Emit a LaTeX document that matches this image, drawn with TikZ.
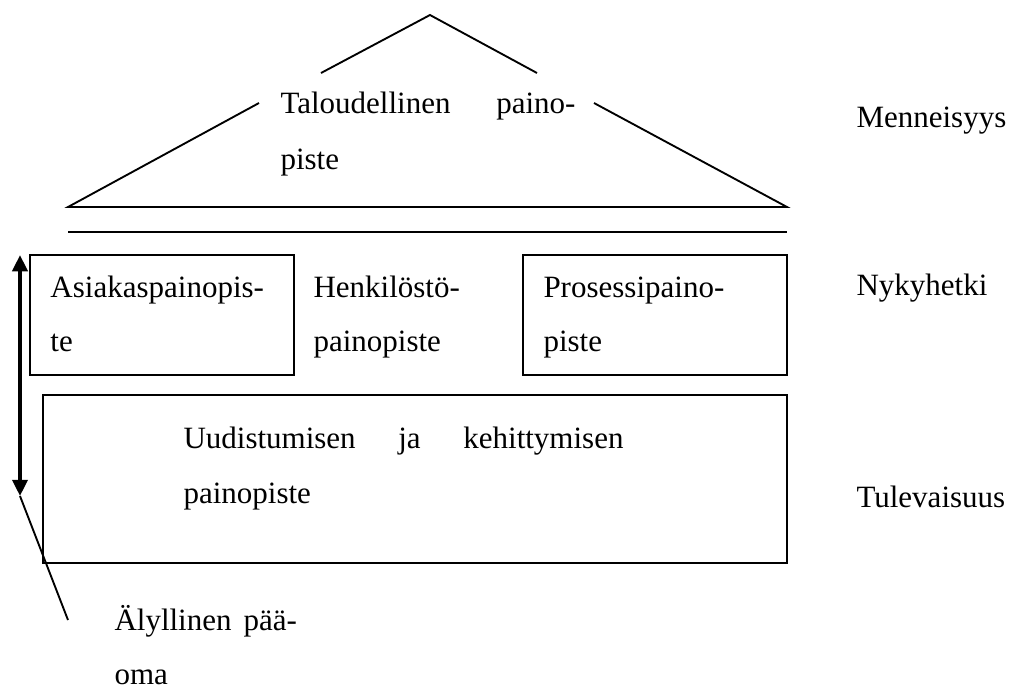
\documentclass[tikz,border=0pt]{standalone}
\usepackage{fontspec}
\setmainfont{Liberation Serif}
\usetikzlibrary{arrows.meta}
\begin{document}
\begin{tikzpicture}[x=0.4pt,y=-0.4pt,
  rule/.style={line width=0.75pt, line join=miter},
  lbl/.style={anchor=base west, inner sep=0pt, font=\fontsize{12.4}{15}\selectfont},
  axisarrow/.style={line width=1.5pt, >={Triangle[width=6pt,length=6.5pt]}, <->}]
\useasboundingbox (0,0) rectangle (1014,689);

% roof outline, broken where the title text sits
\coordinate (apex) at (430,15);
\coordinate (ul) at (321,73);
\coordinate (ll) at (259,103);
\coordinate (bl) at (68,207);
\coordinate (br) at (787,207);
\coordinate (lr) at (594,103);
\coordinate (ur) at (537,73);
\draw[rule] (ul) -- (apex) -- (ur);
\draw[rule] (ll) -- (bl) -- (br) -- (lr);
% floor line under the roof
\coordinate (fl) at (68,232);
\coordinate (fr) at (787,232);
\draw[rule] (fl) -- (fr);

% boxes
\draw[rule] (30,255) rectangle (294,375);
\draw[rule] (523,255) rectangle (787,375);
\draw[rule] (43,395) rectangle (787,563);

% roof text
\node[lbl] (tal1) at (280,113) {\makebox[118pt][s]{Taloudellinen paino-}};
\node[lbl] (tal2) at (280,169) {piste};

% middle row
\node[lbl] (asi1) at (50,297) {Asiakaspainopis-};
\node[lbl] (asi2) at (50,351) {te};
\node[lbl] (hen1) at (313,297) {Henkilöstö-};
\node[lbl] (hen2) at (313,351) {painopiste};
\node[lbl] (pro1) at (543,297) {Prosessipaino-};
\node[lbl] (pro2) at (543,351) {piste};

% foundation
\node[lbl] (uud1) at (183,448) {\makebox[176pt][s]{Uudistumisen ja kehittymisen}};
\node[lbl] (uud2) at (183,503) {painopiste};

% time axis labels
\node[lbl] (men) at (856,127) {Menneisyys};
\node[lbl] (nyk) at (856,295) {Nykyhetki};
\node[lbl] (tul) at (856,507) {Tulevaisuus};

% intellectual capital arrow and its label
\coordinate (atop) at (20,255);
\coordinate (abot) at (20,496);
\draw[axisarrow] (atop) -- (abot);
\coordinate (lend) at (68,620);
\draw[rule] (abot) -- (lend);
\node[lbl] (aly1) at (114,630) {\makebox[73pt][s]{Älyllinen pää-}};
\node[lbl] (aly2) at (114,684) {oma};
\end{tikzpicture}
\end{document}
